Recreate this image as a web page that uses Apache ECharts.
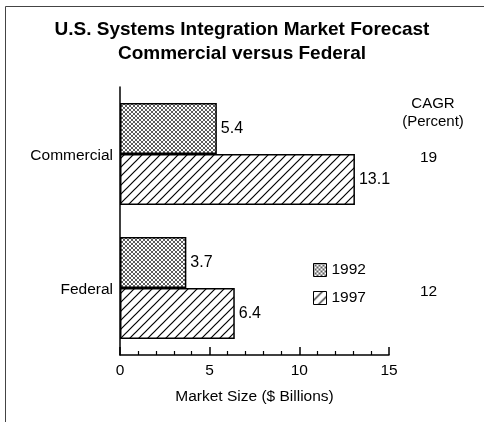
<!DOCTYPE html>
<html>
<head>
<meta charset="utf-8">
<script src="https://cdn.jsdelivr.net/npm/echarts@6/dist/echarts.min.js"></script>
<style>
  html, body { margin: 0; padding: 0; background: #fff; }
  #chart { width: 484px; height: 422px; }
</style>
</head>
<body>
<div id="chart"></div>
<script>
// Market size by segment, $ billions
const categories = ['Commercial', 'Federal'];
const years = ['1992', '1997'];
const values1992 = [5.4, 3.7];
const values1997 = [13.1, 6.4];
// Compound annual growth rate, percent
const cagr = ['19', '12'];
const xTicks = [0, 5, 10, 15];

const FONT = '"Liberation Sans", Arial, Helvetica, sans-serif';

// Fine cross-hatch fill (reads as mid grey)
function crossHatch() {
  const c = document.createElement('canvas');
  c.width = 4; c.height = 4;
  const g = c.getContext('2d');
  g.fillStyle = '#fff';
  g.fillRect(0, 0, 4, 4);
  g.strokeStyle = '#333';
  g.lineWidth = 0.8;
  g.beginPath();
  g.moveTo(0, 0); g.lineTo(4, 4);
  g.moveTo(0, 4); g.lineTo(4, 0);
  g.stroke();
  return c;
}
// Forward-slash diagonal hatch
function diagHatch() {
  const s = 9;
  const c = document.createElement('canvas');
  c.width = s; c.height = s;
  const g = c.getContext('2d');
  g.fillStyle = '#fff';
  g.fillRect(0, 0, s, s);
  g.strokeStyle = '#000';
  g.lineWidth = 1.2;
  g.beginPath();
  g.moveTo(-1, s + 1); g.lineTo(s + 1, -1);
  g.moveTo(-1, 1); g.lineTo(1, -1);
  g.moveTo(s - 1, s + 1); g.lineTo(s + 1, s - 1);
  g.stroke();
  return c;
}

const fills = [
  { image: crossHatch(), repeat: 'repeat' },
  { image: diagHatch(), repeat: 'repeat' }
];
const seriesValues = [values1992, values1997];

const chart = echarts.init(document.getElementById('chart'), null, { renderer: 'canvas' });

chart.setOption({
  animation: false,
  backgroundColor: '#fff',
  textStyle: { fontFamily: FONT, color: '#000' },
  title: [
    {
      text: 'U.S. Systems Integration Market Forecast\nCommercial versus Federal',
      left: 'center',
      top: 13,
      textStyle: { fontFamily: FONT, fontSize: 19, fontWeight: 'bold', color: '#000', lineHeight: 24 },
    },
    {
      text: 'CAGR\n(Percent)',
      left: 428,
      top: 90,
      textAlign: 'center',
      textStyle: { fontFamily: FONT, fontSize: 15, fontWeight: 'normal', color: '#000', lineHeight: 18, align: 'center' }
    }
  ],
  legend: {
    orient: 'vertical',
    left: 308,
    top: 257,
    itemWidth: 13,
    itemHeight: 13,
    itemGap: 12,
    icon: 'rect',
    data: years,
    textStyle: { fontFamily: FONT, fontSize: 15.5, color: '#000' },
    itemStyle: { borderColor: '#000', borderWidth: 1 }
  },
  grid: { left: 120, right: 95, top: 87, bottom: 67, containLabel: false },
  xAxis: {
    type: 'value',
    min: 0,
    max: 15,
    interval: 5,
    name: 'Market Size ($ Billions)',
    nameLocation: 'middle',
    nameGap: 34,
    nameTextStyle: { fontFamily: FONT, fontSize: 15.5, color: '#000' },
    axisLine: { show: true, lineStyle: { color: '#000', width: 1.5 } },
    axisTick: { show: true, inside: true, length: 8, lineStyle: { color: '#000', width: 1.5 } },
    minorTick: { show: true, splitNumber: 5, length: 4, lineStyle: { color: '#000', width: 1.2 } },
    splitLine: { show: false },
    axisLabel: {
      margin: 8, fontFamily: FONT, fontSize: 15.5, color: '#000',
      formatter: v => (xTicks.includes(v) ? String(v) : '')
    }
  },
  yAxis: [
    {
      type: 'category',
      data: categories,
      inverse: true,
      axisLine: { show: true, lineStyle: { color: '#000', width: 1.5 } },
      axisTick: { show: false },
      axisLabel: {
        margin: 7, color: '#000',
        formatter: v => `{t|${v}}`,
        rich: { t: { fontFamily: FONT, fontSize: 15.5, color: '#000', padding: [4, 0, 0, 0] } }
      }
    },
    {
      type: 'category',
      data: cagr,
      inverse: true,
      position: 'right',
      axisLine: { show: false },
      axisTick: { show: false },
      axisLabel: {
        margin: 31, color: '#000',
        formatter: v => `{t|${v}}`,
        rich: { t: { fontFamily: FONT, fontSize: 15.5, color: '#000', padding: [8, 0, 0, 0] } }
      }
    }
  ],
  series: years.map((yr, i) => ({
    name: yr,
    type: 'bar',
    yAxisIndex: 0,
    data: seriesValues[i],
    barWidth: 51,
    barGap: '0%',
    itemStyle: { color: fills[i], borderColor: '#000', borderWidth: 1.5 },
    label: {
      show: true,
      position: 'right',
      distance: 4,
      fontFamily: FONT,
      fontSize: 16,
      color: '#000',
      formatter: p => p.value.toFixed(1)
    }
  })),
  graphic: [
    { type: 'line', shape: { x1: 5.5, y1: 6.5, x2: 484, y2: 6.5 }, style: { stroke: '#444', lineWidth: 1 }, silent: true },
    { type: 'line', shape: { x1: 5.5, y1: 6.5, x2: 5.5, y2: 422 }, style: { stroke: '#444', lineWidth: 1 }, silent: true }
  ]
});
</script>
</body>
</html>
